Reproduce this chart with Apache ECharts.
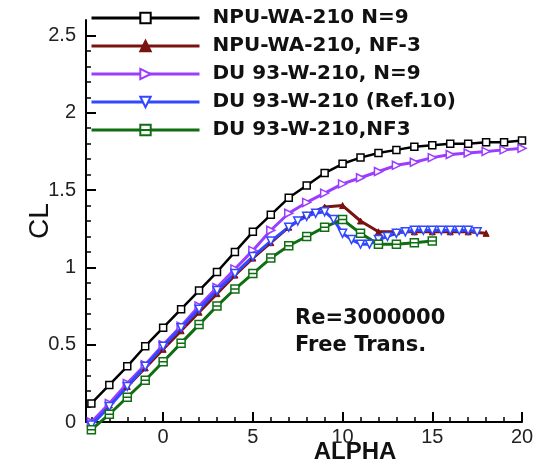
<!DOCTYPE html>
<html>
<head>
<meta charset="utf-8">
<script src="https://cdn.jsdelivr.net/npm/echarts@6/dist/echarts.min.js"></script>
<style>
  html, body { margin: 0; padding: 0; background: #fff; }
  #chart { width: 550px; height: 465px; }
</style>
</head>
<body>
<div id="chart"></div>
<script>
// Lift coefficient vs. angle of attack, Re = 3e6, free transition
const seriesNames = [
  'NPU-WA-210 N=9',
  'NPU-WA-210, NF-3',
  'DU 93-W-210, N=9',
  'DU 93-W-210 (Ref.10)',
  'DU 93-W-210,NF3'
];

const alphaNpuN9 = [-4,-3,-2,-1,0,1,2,3,4,5,6,7,8,9,10,11,12,13,14,15,16,17,18,19,20];
const clNpuN9    = [0.12,0.24,0.36,0.49,0.61,0.73,0.85,0.97,1.10,1.23,1.34,1.45,1.53,1.61,1.67,1.71,1.74,1.76,1.78,1.79,1.80,1.80,1.81,1.81,1.82];

const alphaNpuNF3 = [-4,-3,-2,-1,0,1,2,3,4,5,6,7,8,9,10,11,12,13,14,15,16,17,18];
const clNpuNF3    = [-0.01,0.11,0.23,0.35,0.47,0.59,0.71,0.83,0.95,1.06,1.16,1.26,1.34,1.39,1.40,1.30,1.23,1.23,1.23,1.23,1.23,1.23,1.22];

const alphaDuN9 = [-4,-3,-2,-1,0,1,2,3,4,5,6,7,8,9,10,11,12,13,14,15,16,17,18,19,20];
const clDuN9    = [0.00,0.12,0.25,0.37,0.50,0.62,0.75,0.87,0.99,1.11,1.24,1.35,1.42,1.48,1.54,1.58,1.62,1.66,1.68,1.71,1.73,1.74,1.75,1.76,1.77];

const alphaDuRef = [-4,-3,-2,-1,0,1,2,3,4,5,6,7,7.5,8,8.5,9,9.5,10,10.5,11,11.5,12,12.5,13,13.5,14,14.5,15,15.5,16,16.5,17,17.5];
const clDuRef    = [-0.02,0.10,0.23,0.36,0.49,0.61,0.73,0.85,0.96,1.07,1.17,1.26,1.30,1.33,1.35,1.36,1.31,1.22,1.18,1.15,1.15,1.18,1.20,1.22,1.23,1.24,1.24,1.24,1.24,1.24,1.24,1.24,1.23];

const alphaDuNF3 = [-4,-3,-2,-1,0,1,2,3,4,5,6,7,8,9,10,11,12,13,14,15];
const clDuNF3    = [-0.05,0.05,0.16,0.27,0.39,0.51,0.63,0.75,0.86,0.96,1.06,1.14,1.20,1.26,1.31,1.22,1.15,1.15,1.16,1.17];

const xMajorTicks = [0, 5, 10, 15, 20];
const xMinorTicks = [-4,-3,-2,-1,1,2,3,4,6,7,8,9,11,12,13,14,16,17,18,19];
const yMajorTicks = [0, 0.5, 1, 1.5, 2, 2.5];
const yMinorTicks = [0.1,0.2,0.3,0.4,0.6,0.7,0.8,0.9,1.1,1.2,1.3,1.4,1.6,1.7,1.8,1.9,2.1,2.2,2.3,2.4];

const pairs = (xs, ys) => xs.map((x, i) => [x, ys[i]]);

const tickFont = { fontFamily: 'Liberation Sans, Arial, sans-serif', fontSize: 20, color: '#222' };

function lineSeries(name, data, color, symbol, size, width, rotate, hollow) {
  return {
    name: name,
    type: 'line',
    data: data,
    xAxisIndex: 0,
    yAxisIndex: 0,
    clip: false,
    symbol: symbol,
    symbolSize: size,
    symbolRotate: rotate,
    showAllSymbol: true,
    lineStyle: { color: color, width: width },
    itemStyle: hollow
      ? { color: '#fff', borderColor: color, borderWidth: 1.5 }
      : { color: color, borderColor: color, borderWidth: 1 },
    emphasis: { disabled: true }
  };
}

const chart = echarts.init(document.getElementById('chart'), null, { renderer: 'canvas' });

chart.setOption({
  animation: false,
  backgroundColor: '#fff',
  grid: { left: 86, right: 28, top: 20, bottom: 43, outerBoundsMode: 'none', containLabel: false },
  legend: {
    left: 90,
    top: 8,
    orient: 'vertical',
    padding: 0,
    itemWidth: 108,
    itemHeight: 13,
    itemGap: 8,
    selectedMode: false,
    data: seriesNames,
    lineStyle: { width: 3 },
    textStyle: {
      fontFamily: 'DejaVu Sans, sans-serif',
      fontWeight: 'bold',
      fontSize: 20,
      lineHeight: 20,
      color: '#111',
      padding: [0, 0, 0, 8]
    }
  },
  xAxis: [
    {
      type: 'value',
      min: -4.3,
      max: 20,
      position: 'bottom',
      name: 'ALPHA',
      nameLocation: 'middle',
      nameGap: 18,
      nameMoveOverlap: false,
      nameTextStyle: {
        fontFamily: 'Liberation Sans, Arial, sans-serif',
        fontWeight: 'bold',
        fontSize: 24,
        color: '#111',
        padding: [0, 0, 0, 102]
      },
      axisLine: { show: true, onZero: false, lineStyle: { color: '#000', width: 2 } },
      axisTick: { show: true, inside: true, length: 10, lineStyle: { color: '#000', width: 2 }, customValues: xMajorTicks },
      axisLabel: Object.assign({ margin: 5, customValues: xMajorTicks }, tickFont),
      splitLine: { show: false }
    },
    {
      type: 'value',
      min: -4.3,
      max: 20,
      position: 'bottom',
      axisLine: { show: false, onZero: false },
      axisTick: { show: true, inside: true, length: 5, lineStyle: { color: '#000', width: 1.5 }, customValues: xMinorTicks },
      axisLabel: { show: false },
      splitLine: { show: false }
    }
  ],
  yAxis: [
    {
      type: 'value',
      min: 0,
      max: 2.6,
      position: 'left',
      name: 'CL',
      nameLocation: 'middle',
      nameRotate: 90,
      nameGap: 32,
      nameMoveOverlap: false,
      nameTextStyle: {
        fontFamily: 'Liberation Sans, Arial, sans-serif',
        fontSize: 28,
        color: '#111'
      },
      axisLine: { show: true, onZero: false, lineStyle: { color: '#000', width: 2 } },
      axisTick: { show: true, inside: true, length: 10, lineStyle: { color: '#000', width: 2 }, customValues: yMajorTicks },
      axisLabel: Object.assign({ margin: 10, customValues: yMajorTicks }, tickFont),
      splitLine: { show: false }
    },
    {
      type: 'value',
      min: 0,
      max: 2.6,
      position: 'left',
      axisLine: { show: false, onZero: false },
      axisTick: { show: true, inside: true, length: 5, lineStyle: { color: '#000', width: 1.5 }, customValues: yMinorTicks },
      axisLabel: { show: false },
      splitLine: { show: false }
    }
  ],
  graphic: [
    {
      type: 'text',
      left: 295,
      top: 305,
      style: {
        text: 'Re=3000000\nFree Trans.',
        font: 'bold 21px "DejaVu Sans", sans-serif',
        lineHeight: 27,
        fill: '#111'
      }
    }
  ],
  series: [
    lineSeries(seriesNames[0], pairs(alphaNpuN9, clNpuN9), '#000000', 'rect', 7, 2.5, 0, true),
    lineSeries(seriesNames[1], pairs(alphaNpuNF3, clNpuNF3), '#7a1212', 'triangle', 6, 3, 0, false),
    lineSeries(seriesNames[2], pairs(alphaDuN9, clDuN9), '#9b3cff', 'triangle', 8, 3, -90, true),
    lineSeries(seriesNames[3], pairs(alphaDuRef, clDuRef), '#3048ff', 'triangle', 8, 3, 180, true),
    lineSeries(seriesNames[4], pairs(alphaDuNF3, clDuNF3), '#0f6e12', 'path://M0,0L10,0L10,10L0,10ZM0,5L10,5', 8, 3, 0, true)
  ]
});
</script>
</body>
</html>
